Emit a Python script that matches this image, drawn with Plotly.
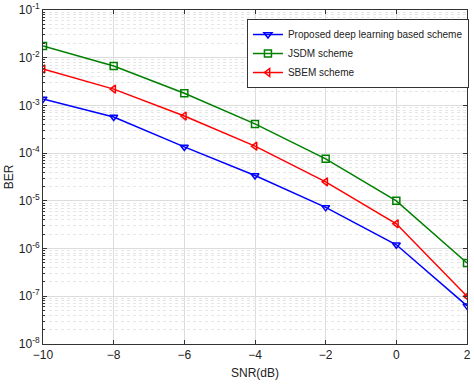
import plotly.graph_objects as go

snr = [-10, -8, -6, -4, -2, 0, 2]
ber_proposed = [1.37e-3, 5.7e-4, 1.35e-4, 3.4e-5, 7.3e-6, 1.2e-6, 6.3e-8]
ber_jsdm = [1.76e-2, 6.7e-3, 1.8e-3, 4.1e-4, 7.6e-5, 1.0e-5, 5.0e-7]
ber_sbem = [5.8e-3, 2.2e-3, 6.0e-4, 1.4e-4, 2.5e-5, 3.3e-6, 1.0e-7]

y_tickvals = [1e-1, 1e-2, 1e-3, 1e-4, 1e-5, 1e-6, 1e-7, 1e-8]
y_ticktext = ["10<sup>-1</sup>", "10<sup>-2</sup>", "10<sup>-3</sup>", "10<sup>-4</sup>",
              "10<sup>-5</sup>", "10<sup>-6</sup>", "10<sup>-7</sup>", "10<sup>-8</sup>"]
x_tickvals = [-10, -8, -6, -4, -2, 0, 2]

# minor log positions (2..9 x 10^k) for the dotted grid
minor_vals = [m * 10.0 ** k for k in range(-8, -1) for m in range(2, 10)]

series = [
    ("Proposed deep learning based scheme", ber_proposed, "#0000ff", "triangle-down-open"),
    ("JSDM scheme", ber_jsdm, "#008000", "square-open"),
    ("SBEM scheme", ber_sbem, "#ff0000", "triangle-left-open"),
]

fig = go.Figure()
for name, ys, color, symbol in series:
    fig.add_trace(go.Scatter(
        x=snr, y=ys, name=name, mode="lines+markers",
        line=dict(color=color, width=1.5),
        marker=dict(symbol=symbol, size=7, color=color, line=dict(width=1.5, color=color)),
    ))

axis_common = dict(
    showline=True, linecolor="#333333", linewidth=1, mirror="ticks",
    ticks="inside", ticklen=4, tickcolor="#333333",
    showgrid=True, gridcolor="#dcdcdc", gridwidth=1, zeroline=False,
    tickfont=dict(size=12, color="#222222"),
)

fig.update_layout(
    width=474, height=384,
    margin=dict(l=43, r=7, t=10, b=40, autoexpand=False),
    paper_bgcolor="white", plot_bgcolor="white",
    font=dict(family="Liberation Sans, Arial, sans-serif", size=12, color="#222222"),
    showlegend=True,
    legend=dict(
        x=0.481, y=0.973, xanchor="left", yanchor="top",
        bgcolor="white", bordercolor="#333333", borderwidth=1,
        font=dict(size=10), tracegroupgap=0, itemwidth=30,
    ),
    xaxis=dict(
        axis_common, range=[-10, 2], tickvals=x_tickvals,
        title=dict(text="SNR(dB)", standoff=7, font=dict(size=12)),
    ),
    yaxis=dict(
        axis_common, type="log", range=[-8, -1],
        tickvals=y_tickvals, ticktext=y_ticktext,
        title=dict(text="BER", standoff=2, font=dict(size=12)),
    ),
    yaxis2=dict(
        type="log", range=[-8, -1], overlaying="y", side="left",
        tickvals=minor_vals, ticktext=[""] * len(minor_vals),
        ticks="inside", ticklen=2, tickcolor="#333333",
        showgrid=True, gridcolor="#e6e6e6", griddash="dot", gridwidth=1,
        showline=False, zeroline=False,
    ),
)

# invisible trace to activate the minor-grid axis
fig.add_trace(go.Scatter(x=[None], y=[None], yaxis="y2", showlegend=False, hoverinfo="skip"))

fig.write_html("out.html", config={"displayModeBar": False},
               post_script="document.body.style.margin='0';")
